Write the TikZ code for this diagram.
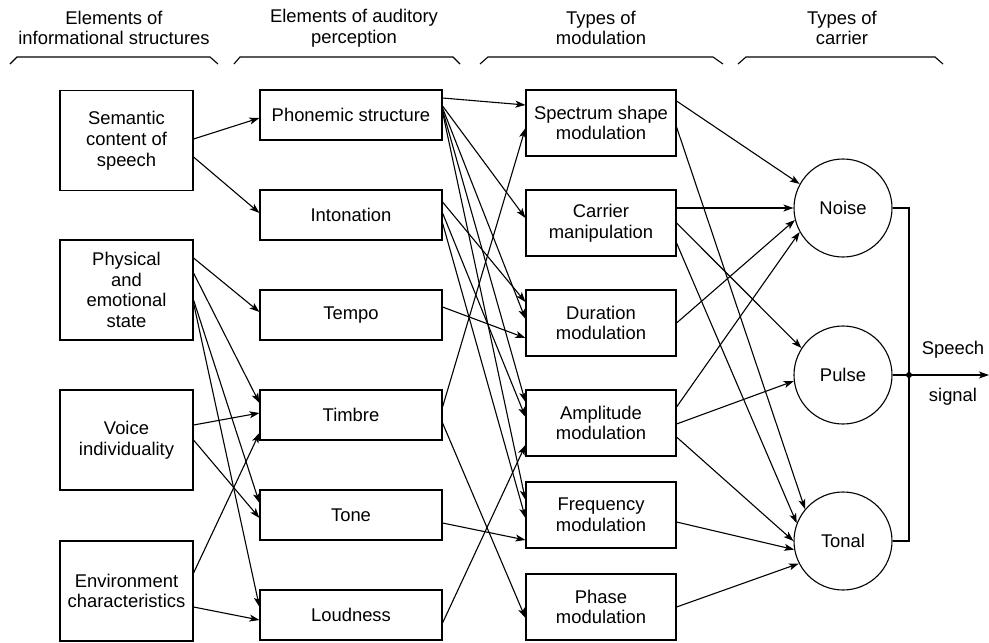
\documentclass[tikz,border=0pt]{standalone}
\usepackage{fontspec}
\setmainfont{Liberation Sans}
\usetikzlibrary{arrows.meta,calc}
\tikzset{
    info/.style={rectangle,draw=black,line width=1.1pt,minimum width=133pt,minimum height=100pt,align=center,inner sep=0},
    percept/.style={rectangle,draw=black,line width=1.1pt,minimum width=182pt,minimum height=50pt,align=center,inner sep=0},
    modul/.style={rectangle,draw=black,line width=1.1pt,minimum width=150pt,minimum height=66pt,align=center,inner sep=0},
    carrier/.style={circle,draw=black,line width=1.1pt,minimum size=98pt,inner sep=0},
    link/.style={line width=1.1pt,-{Stealth[length=10pt,width=7pt,inset=2.5pt]}},
    heading/.style={align=center,inner sep=0}
}

\begin{document}
\begin{tikzpicture}[x=1pt,y=-1pt,font=\fontsize{18.4}{20.8}\selectfont]
    \useasboundingbox (0,0) rectangle (989,643);
    % headings
    \node[heading] (h1) at (114,28) {Elements of\\informational structures};
    \node[heading] (h2) at (354,28) {Elements of auditory\\perception};
    \node[heading] (h3) at (601,28) {Types of\\modulation};
    \node[heading] (h4) at (842,28) {Types of\\carrier};
    \draw[line width=1.1pt] (10,64) -- (17,57) -- (210,57) -- (218,64);
    \draw[line width=1.1pt] (234,64) -- (240,57) -- (453,57) -- (460,64);
    \draw[line width=1.1pt] (480,64) -- (488,57) -- (713,57) -- (723,64);
    \draw[line width=1.1pt] (738,64) -- (746,57) -- (935,57) -- (943,64);
    % informational structures
    \node[info] (sem) at (126.5,140.5) {Semantic\\content of\\speech};
    \node[info] (phys) at (126.5,290) {Physical\\and\\emotional\\state};
    \node[info] (voice) at (126.5,440) {Voice\\individuality};
    \node[info] (env) at (126.5,591) {Environment\\characteristics};
    % auditory perception
    \node[percept] (phon) at (351,115) {Phonemic structure};
    \node[percept] (inton) at (351,215) {Intonation};
    \node[percept] (tempo) at (351,315) {Tempo};
    \node[percept] (timbre) at (351,415) {Timbre};
    \node[percept] (tone) at (351,515) {Tone};
    \node[percept] (loud) at (351,615) {Loudness};
    % modulation
    \node[modul] (spec) at (601,123) {Spectrum shape\\modulation};
    \node[modul] (carr) at (601,223) {Carrier\\manipulation};
    \node[modul] (dur) at (601,323) {Duration\\modulation};
    \node[modul] (ampl) at (601,423) {Amplitude\\modulation};
    \node[modul] (freq) at (601,515) {Frequency\\modulation};
    \node[modul] (phase) at (601,607) {Phase\\modulation};
    % carriers
    \node[carrier] (noise) at (843,208) {Noise};
    \node[carrier] (pulse) at (843,375) {Pulse};
    \node[carrier] (tonal) at (843,541) {Tonal};

    % structures -> perception
    \draw[link] ($(sem.east)+(0,-1.5)$) -- ($(phon.west)+(0,3)$);
    \draw[link] ($(sem.east)+(0,16.5)$) -- ($(inton.west)+(0,-2)$);
    \draw[link] ($(phys.east)+(0,-32)$) -- ($(tempo.west)+(0,-3)$);
    \draw[link] ($(phys.east)+(0,-17)$) -- ($(timbre.west)+(0,-12)$);
    \draw[link] ($(phys.east)+(0,10)$) -- ($(tone.west)+(0,-12)$);
    \draw[link] ($(phys.east)+(0,13)$) -- ($(loud.west)+(0,-8)$);
    \draw[link] ($(voice.east)+(0,-15)$) -- ($(timbre.west)+(0,-2)$);
    \draw[link] (voice.east) -- ($(tone.west)+(0,3)$);
    \draw[link] ($(env.east)+(0,-18)$) -- ($(timbre.west)+(0,18)$);
    \draw[link] ($(env.east)+(0,16)$) -- ($(loud.west)+(0,5)$);

    % perception -> modulation
    \draw[link] ($(phon.east)+(0,-17)$) -- ($(spec.west)+(0,-18)$);
    \draw[link] ($(phon.east)+(0,-9)$) -- ($(carr.west)+(0,-5)$);
    \draw[link] ($(phon.east)+(0,-7)$) -- ($(dur.west)+(0,-4)$);
    \draw[link] ($(phon.east)+(0,-5)$) -- ($(ampl.west)+(0,-21)$);
    \draw[link] ($(phon.east)+(0,-3)$) -- ($(freq.west)+(0,-15)$);
    \draw[link] ($(inton.east)+(0,-13)$) -- ($(dur.west)+(0,-21)$);
    \draw[link] ($(inton.east)+(0,-2)$) -- ($(ampl.west)+(0,-6)$);
    \draw[link] ($(inton.east)+(0,8)$) -- ($(freq.west)+(0,3)$);
    \draw[link] ($(tempo.east)+(0,-8)$) -- ($(dur.west)+(0,15)$);
    \draw[link] ($(timbre.east)+(0,-8)$) -- ($(spec.west)+(0,5)$);
    \draw[link] ($(timbre.east)+(0,8)$) -- ($(phase.west)+(0,11)$);
    \draw[link] ($(tone.east)+(0,8)$) -- ($(freq.west)+(0,25)$);
    \draw[link] ($(loud.east)+(0,8)$) -- ($(ampl.west)+(0,22)$);

    % modulation -> carriers
    \draw[link] ($(spec.east)+(0,-22)$) -- (noise.151.5);
    \draw[link] ($(spec.east)+(0,4)$) -- (tonal.140);
    \draw[link] ($(carr.east)+(0,-15)$) -- (noise.180);
    \draw[link] (carr.east) -- (pulse.147);
    \draw[link] ($(carr.east)+(0,20)$) -- (tonal.159);
    \draw[link] (dur.east) -- (noise.194);
    \draw[link] ($(ampl.east)+(0,-16)$) -- (noise.209);
    \draw[link] ($(ampl.east)+(0,1)$) -- (pulse.187);
    \draw[link] ($(ampl.east)+(0,14)$) -- (tonal.180);
    \draw[link] ($(freq.east)+(0,7)$) -- (tonal.190);
    \draw[link] (phase.east) -- (tonal.207);

    % speech signal
    \coordinate (bus) at (909,375);
    \coordinate (out) at (989,375);
    \draw[line width=1.1pt] (noise.east) -| (bus) |- (tonal.east);
    \draw[link] (pulse.east) -- (out);
    \fill (bus) circle (3);
    \node (speech) at (953,350) {Speech};
    \node (signal) at (953,397) {signal};
\end{tikzpicture}
\end{document}
